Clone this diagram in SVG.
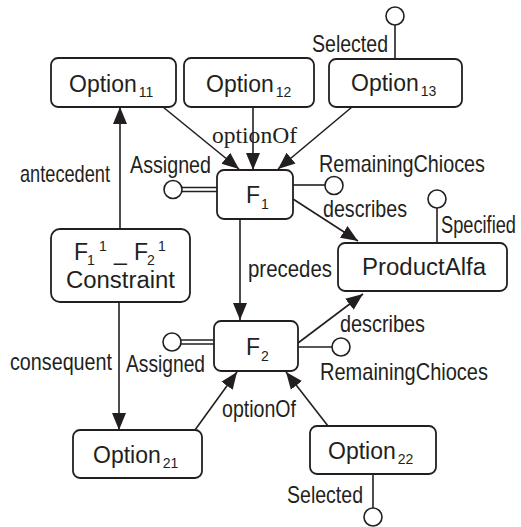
<svg xmlns="http://www.w3.org/2000/svg" width="521" height="527" viewBox="0 0 521 527">
  <style>
    .box { fill: #ffffff; stroke: #231f20; stroke-width: 1.8; }
    .edge { fill: none; stroke: #231f20; stroke-width: 1.6; }
    .lolly { fill: #ffffff; stroke: #231f20; stroke-width: 1.6; }
    .node-text { font-family: "Liberation Sans", Arial, sans-serif; font-size: 23px; fill: #231f20; }
    .sub { font-size: 14px; }
    .label { font-family: "Liberation Sans", Arial, sans-serif; font-size: 24px; fill: #231f20; }
    .serif-label { font-family: "Liberation Serif", "Times New Roman", serif; font-size: 23px; fill: #231f20; }
  </style>
  <defs>
    <marker id="arrow" markerUnits="userSpaceOnUse" markerWidth="18" markerHeight="16" viewBox="0 0 18 16" refX="17" refY="8" orient="auto">
      <path d="M0,1 L17,8 L0,15 Z" fill="#231f20"/>
    </marker>
  </defs>

  <rect width="521" height="527" fill="#ffffff"/>

  <!-- connectors -->
  <g id="connectors">
    <line class="edge" x1="163" y1="107" x2="239" y2="169" marker-end="url(#arrow)"/>
    <line class="edge" x1="253" y1="107" x2="253" y2="170" marker-end="url(#arrow)"/>
    <line class="edge" x1="352" y1="107" x2="278" y2="169" marker-end="url(#arrow)"/>
    <line class="edge" x1="293" y1="199" x2="358" y2="241" marker-end="url(#arrow)"/>
    <line class="edge" x1="240" y1="219" x2="240" y2="320" marker-end="url(#arrow)"/>
    <line class="edge" x1="298" y1="343" x2="363" y2="294" marker-end="url(#arrow)"/>
    <line class="edge" x1="195" y1="430" x2="237" y2="372" marker-end="url(#arrow)"/>
    <line class="edge" x1="328" y1="426" x2="286" y2="372" marker-end="url(#arrow)"/>
    <line class="edge" x1="120" y1="229" x2="120" y2="107" marker-end="url(#arrow)"/>
    <line class="edge" x1="119" y1="302" x2="119" y2="430" marker-end="url(#arrow)"/>

    <!-- lollipop attributes -->
    <line class="edge" x1="395" y1="59" x2="395" y2="25"/>
    <circle class="lolly" cx="395" cy="16" r="9"/>
    <line class="edge" x1="437" y1="243" x2="437" y2="208"/>
    <circle class="lolly" cx="437" cy="199" r="9"/>
    <line class="edge" x1="182" y1="187.5" x2="217" y2="187.5"/>
    <line class="edge" x1="182" y1="191.5" x2="217" y2="191.5"/>
    <circle class="lolly" cx="173" cy="189.5" r="9"/>
    <line class="edge" x1="293" y1="185" x2="325" y2="185"/>
    <circle class="lolly" cx="334" cy="185.5" r="9"/>
    <line class="edge" x1="181" y1="340" x2="214" y2="340"/>
    <line class="edge" x1="181" y1="344" x2="214" y2="344"/>
    <circle class="lolly" cx="172" cy="342" r="9"/>
    <line class="edge" x1="298" y1="347" x2="332" y2="347"/>
    <circle class="lolly" cx="341" cy="347" r="9"/>
    <line class="edge" x1="373" y1="474" x2="373" y2="508"/>
    <circle class="lolly" cx="373" cy="517" r="9"/>

    <!-- connector labels -->
    <text class="label" x="20" y="182" textLength="90" lengthAdjust="spacingAndGlyphs">antecedent</text>
    <text class="label" x="10" y="370" textLength="102" lengthAdjust="spacingAndGlyphs">consequent</text>
    <text class="label" x="130" y="173" textLength="81" lengthAdjust="spacingAndGlyphs">Assigned</text>
    <text class="label" x="126" y="372" textLength="79" lengthAdjust="spacingAndGlyphs">Assigned</text>
    <text class="label" x="319" y="172" textLength="166" lengthAdjust="spacingAndGlyphs">RemainingChioces</text>
    <text class="label" x="320" y="380" textLength="168" lengthAdjust="spacingAndGlyphs">RemainingChioces</text>
    <text class="label" x="323" y="217" textLength="84" lengthAdjust="spacingAndGlyphs">describes</text>
    <text class="label" x="340" y="332" textLength="85" lengthAdjust="spacingAndGlyphs">describes</text>
    <text class="label" transform="translate(441,233) scale(0.76,1)" x="0" y="0">Specified</text>
    <text class="label" x="248" y="277" textLength="84" lengthAdjust="spacingAndGlyphs">precedes</text>
    <text class="label" x="312" y="52" textLength="76" lengthAdjust="spacingAndGlyphs">Selected</text>
    <text class="label" x="287" y="503" textLength="76" lengthAdjust="spacingAndGlyphs">Selected</text>
    <text class="label" x="222" y="417" textLength="74" lengthAdjust="spacingAndGlyphs">optionOf</text>
    <text class="serif-label" x="212" y="143" textLength="85" lengthAdjust="spacingAndGlyphs">optionOf</text>
  </g>

  <!-- nodes -->
  <g id="option11">
    <rect class="box" x="51" y="58" width="125" height="49" rx="7"/>
    <text class="node-text" x="69" y="92">Option<tspan class="sub" dx="2" dy="5">11</tspan></text>
  </g>
  <g id="option12">
    <rect class="box" x="184" y="58" width="130" height="49" rx="7"/>
    <text class="node-text" x="206" y="92">Option<tspan class="sub" dx="2" dy="5">12</tspan></text>
  </g>
  <g id="option13">
    <rect class="box" x="329" y="59" width="133" height="48" rx="7"/>
    <text class="node-text" x="351" y="91">Option<tspan class="sub" dx="2" dy="5">13</tspan></text>
  </g>
  <g id="f1">
    <rect class="box" x="217" y="170" width="76" height="49" rx="7"/>
    <text class="node-text" x="246" y="203">F<tspan class="sub" dx="1" dy="6">1</tspan></text>
  </g>
  <g id="constraint">
    <rect class="box" x="51" y="229" width="139" height="73" rx="9"/>
    <text class="node-text"><tspan x="74" y="260">F</tspan><tspan class="sub" x="87" y="265">1</tspan><tspan class="sub" x="99" y="251">1</tspan><tspan x="114" y="260">_</tspan><tspan x="134" y="260">F</tspan><tspan class="sub" x="147" y="265">2</tspan><tspan class="sub" x="158" y="251">1</tspan></text>
    <text class="node-text" x="66" y="288" textLength="109" lengthAdjust="spacingAndGlyphs">Constraint</text>
  </g>
  <g id="productAlfa">
    <rect class="box" x="338" y="243" width="169" height="48" rx="7"/>
    <text class="node-text" x="362" y="275" textLength="124" lengthAdjust="spacingAndGlyphs">ProductAlfa</text>
  </g>
  <g id="f2">
    <rect class="box" x="214" y="321" width="84" height="50" rx="7"/>
    <text class="node-text" x="246" y="355">F<tspan class="sub" dx="1" dy="6">2</tspan></text>
  </g>
  <g id="option21">
    <rect class="box" x="73" y="430" width="129" height="48" rx="7"/>
    <text class="node-text" x="93" y="463">Option<tspan class="sub" dx="2" dy="5">21</tspan></text>
  </g>
  <g id="option22">
    <rect class="box" x="310" y="426" width="126" height="48" rx="7"/>
    <text class="node-text" x="328" y="459">Option<tspan class="sub" dx="2" dy="5">22</tspan></text>
  </g>
</svg>
